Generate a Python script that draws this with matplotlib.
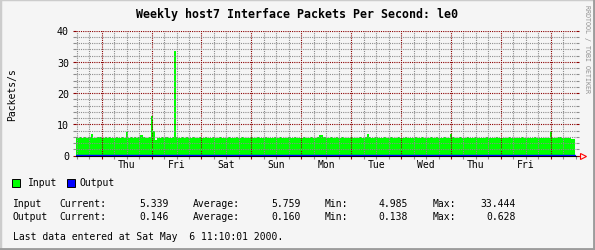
import numpy as np
import matplotlib
matplotlib.use("Agg")
import matplotlib.pyplot as plt
from matplotlib.ticker import MultipleLocator
from matplotlib.patches import Rectangle
from matplotlib.lines import Line2D

W, H = 595, 251
plt.rcParams['font.family'] = 'DejaVu Sans Mono'

# data, hours counted from Wed 00:00
start_hour = 11.67
input_pps = [
    5.8, 5.7, 5.9, 5.6, 5.8, 5.7, 5.9, 6.9, 5.7, 5.6, 5.8, 5.9, 5.6, 5.7, 5.8, 5.6, 5.9, 5.7, 5.6, 5.8, 5.5, 5.7, 5.8, 5.6,
    7.4, 5.7, 5.8, 5.6, 5.9, 5.7, 5.8, 6.7, 5.9, 5.7, 5.6, 5.8, 12.5, 7.9, 4.99, 5.7, 5.6, 5.8, 5.7, 5.9, 5.6, 5.7, 6.0, 33.44,
    5.8, 5.6, 5.7, 5.9, 5.6, 5.8, 5.7, 5.6, 5.9, 5.7, 5.5, 5.8, 5.6, 5.7, 5.8, 5.6, 5.5, 5.7, 5.8, 5.6, 5.7, 5.9, 5.6, 5.7,
    5.6, 5.8, 5.7, 5.5, 5.7, 5.9, 5.6, 5.7, 5.8, 5.6, 5.7, 5.5, 5.8, 5.6, 5.7, 5.9, 5.6, 5.5, 5.7, 5.8, 5.6, 5.7, 5.6, 5.8,
    5.7, 5.6, 5.8, 5.5, 5.7, 5.6, 5.9, 5.7, 5.6, 5.8, 5.5, 5.7, 5.6, 5.8, 5.7, 5.5, 5.6, 5.8, 5.7, 5.6, 5.9, 6.6, 6.5, 5.8,
    5.7, 5.6, 5.8, 5.7, 5.5, 5.8, 5.6, 5.7, 5.9, 5.6, 5.7, 5.5, 5.8, 5.6, 5.7, 5.6, 5.8, 5.7, 5.6, 5.9, 6.8, 5.8, 5.7, 5.6,
    5.8, 5.6, 5.7, 5.5, 5.8, 5.7, 5.6, 5.8, 5.7, 5.5, 5.6, 5.8, 5.7, 5.6, 5.9, 5.7, 5.6, 5.5, 5.7, 5.8, 5.6, 5.7, 5.8, 5.6,
    5.7, 5.5, 5.8, 5.6, 5.7, 5.9, 5.6, 5.7, 5.5, 5.8, 5.6, 5.7, 7.0, 5.8, 5.6, 5.7, 5.9, 5.6, 5.7, 5.5, 5.8, 5.6, 5.7, 5.6,
    5.8, 5.6, 5.7, 5.5, 5.7, 5.8, 5.6, 5.7, 5.5, 5.6, 5.8, 5.7, 5.6, 5.5, 5.7, 5.6, 5.8, 5.7, 5.5, 5.6, 5.7, 5.6, 5.8, 5.5,
    5.6, 5.7, 5.5, 5.6, 5.8, 5.6, 5.5, 5.7, 5.6, 5.5, 5.7, 5.6, 7.4, 5.7, 5.5, 5.6, 5.8, 5.5, 5.6, 5.7, 5.5, 5.6, 5.4, 5.34,
]
# output sampled every 4 hours
output_pps = [
    0.16, 0.15, 0.16, 0.17, 0.15, 0.16, 0.15, 0.16, 0.17, 0.16, 0.18, 0.19, 0.16, 0.15, 0.16, 0.15, 0.16, 0.17, 0.15, 0.16,
    0.15, 0.16, 0.16, 0.15, 0.17, 0.16, 0.15, 0.16, 0.15, 0.16, 0.17, 0.16, 0.15, 0.16, 0.15, 0.16, 0.16, 0.15, 0.17, 0.16,
    0.15, 0.16, 0.15, 0.16, 0.17, 0.16, 0.15, 0.16, 0.15, 0.16, 0.16, 0.15, 0.16, 0.15, 0.16, 0.15, 0.14, 0.15, 0.15, 0.146,
]
day_labels = ['Thu', 'Fri', 'Sat', 'Sun', 'Mon', 'Tue', 'Wed', 'Thu', 'Fri']
day_label_hours = [36, 60, 84, 108, 132, 156, 180, 204, 228]
y_ticks = [0, 10, 20, 30, 40]

series_names = ['Input', 'Output']
current = ['5.339', '0.146']
average = ['5.759', '0.160']
minimum = ['4.985', '0.138']
maximum = ['33.444', '0.628']

title = 'Weekly host7 Interface Packets Per Second: le0'
footer = 'Last data entered at Sat May  6 11:10:01 2000.'

bg = '#f5f5f5'
major_c = '#8b0000'
minor_c = '#8c8c8c'

fig = plt.figure(figsize=(W / 100, H / 100), dpi=100, facecolor=bg)
ax = fig.add_axes([76 / W, 1 - 156.5 / H, 500 / W, 125 / H])
ax.set_facecolor(bg)

edges_in = start_hour + np.arange(len(input_pps) + 1) * 1.0
edges_out = start_hour + np.arange(len(output_pps) + 1) * 4.0
ax.stairs(input_pps, edges_in, fill=True, color='#00ff00', lw=0, zorder=1)
ax.stairs(output_pps, edges_out, color='#0000ff', lw=1.0, zorder=4)

ax.set_xlim(start_hour, 252.1)
ax.set_ylim(0, 40)

ax.xaxis.set_major_locator(MultipleLocator(24))
ax.xaxis.set_minor_locator(MultipleLocator(6))
ax.yaxis.set_major_locator(MultipleLocator(10))
ax.yaxis.set_minor_locator(MultipleLocator(2))
ax.set_axisbelow(False)
dot = (0, (1, 1))
ax.grid(which='major', color=major_c, ls=dot, lw=0.8)
ax.grid(which='minor', color=minor_c, ls=dot, lw=0.8)

ax.set_xticklabels([])
ax.set_yticks(y_ticks)
ax.set_yticklabels([str(v) for v in y_ticks], fontsize=7.2)
ax.tick_params(axis='both', which='major', length=2, width=0.8, color=major_c, pad=3)
ax.tick_params(axis='both', which='minor', length=2, width=0.8, color=minor_c)
ax.tick_params(axis='y', which='both', right=True)

for s in ['top', 'right', 'left']:
    ax.spines[s].set_visible(False)
ax.spines['bottom'].set_color('black')
ax.spines['bottom'].set_linewidth(0.8)
ax.spines['bottom'].set_zorder(3)

for lab, hr in zip(day_labels, day_label_hours):
    ax.text(hr, -0.07, lab, transform=ax.get_xaxis_transform(), ha='center', va='center', fontsize=7.0)

# red arrow at the end of the x axis
ax.plot([1.0, 1.008], [0, 0], transform=ax.transAxes, color='red', lw=0.8, clip_on=False)
ax.plot([1.013], [0], transform=ax.transAxes, marker='>', ms=5, mfc='none', mec='red', mew=0.8, clip_on=False)

fig.text(297.5 / W, 1 - 15 / H, title, ha='center', va='center', fontsize=8.4, fontweight='bold')
fig.text(12 / W, 1 - 95 / H, 'Packets/s', rotation=90, ha='center', va='center', fontsize=7.0)
fig.text(587 / W, 1 - 5 / H, 'RRDTOOL / TOBI OETIKER', rotation=270, ha='center', va='top',
         fontsize=4.8, color='#909090')

# legend
for x0, col, name, tx in [(12, '#00ff00', 'Input', 27.5), (67, '#0000ff', 'Output', 80)]:
    fig.add_artist(Rectangle((x0 / W, 1 - 187.5 / H), 8 / W, 7.5 / H, transform=fig.transFigure,
                             fc=col, ec='black', lw=0.7))
    fig.text(tx / W, 1 - 183.5 / H, name, ha='left', va='center', fontsize=7.0)

# stats
for row, yy in enumerate([204.3, 217.3]):
    yf = 1 - yy / H
    fig.text(12.9 / W, yf, series_names[row], ha='left', va='center', fontsize=7.0)
    fig.text(59.6 / W, yf, 'Current:', ha='left', va='center', fontsize=7.0)
    fig.text(168.5 / W, yf, current[row], ha='right', va='center', fontsize=7.0)
    fig.text(192.8 / W, yf, 'Average:', ha='left', va='center', fontsize=7.0)
    fig.text(301 / W, yf, average[row], ha='right', va='center', fontsize=7.0)
    fig.text(324.5 / W, yf, 'Min:', ha='left', va='center', fontsize=7.0)
    fig.text(408 / W, yf, minimum[row], ha='right', va='center', fontsize=7.0)
    fig.text(432.6 / W, yf, 'Max:', ha='left', va='center', fontsize=7.0)
    fig.text(516 / W, yf, maximum[row], ha='right', va='center', fontsize=7.0)

fig.text(12.5 / W, 1 - 237 / H, footer, ha='left', va='center', fontsize=7.0)

# 3d frame around the image
fig.add_artist(Line2D([0, 0], [0, 1], transform=fig.transFigure, color='#cccccc', lw=2.5))
fig.add_artist(Line2D([0, 1], [1, 1], transform=fig.transFigure, color='#cccccc', lw=2.5))
fig.add_artist(Line2D([1, 1], [0, 1], transform=fig.transFigure, color='#9c9c9c', lw=3.5))
fig.add_artist(Line2D([0, 1], [0, 0], transform=fig.transFigure, color='#9c9c9c', lw=3.5))

fig.savefig('out.png', dpi=100, facecolor=bg)
